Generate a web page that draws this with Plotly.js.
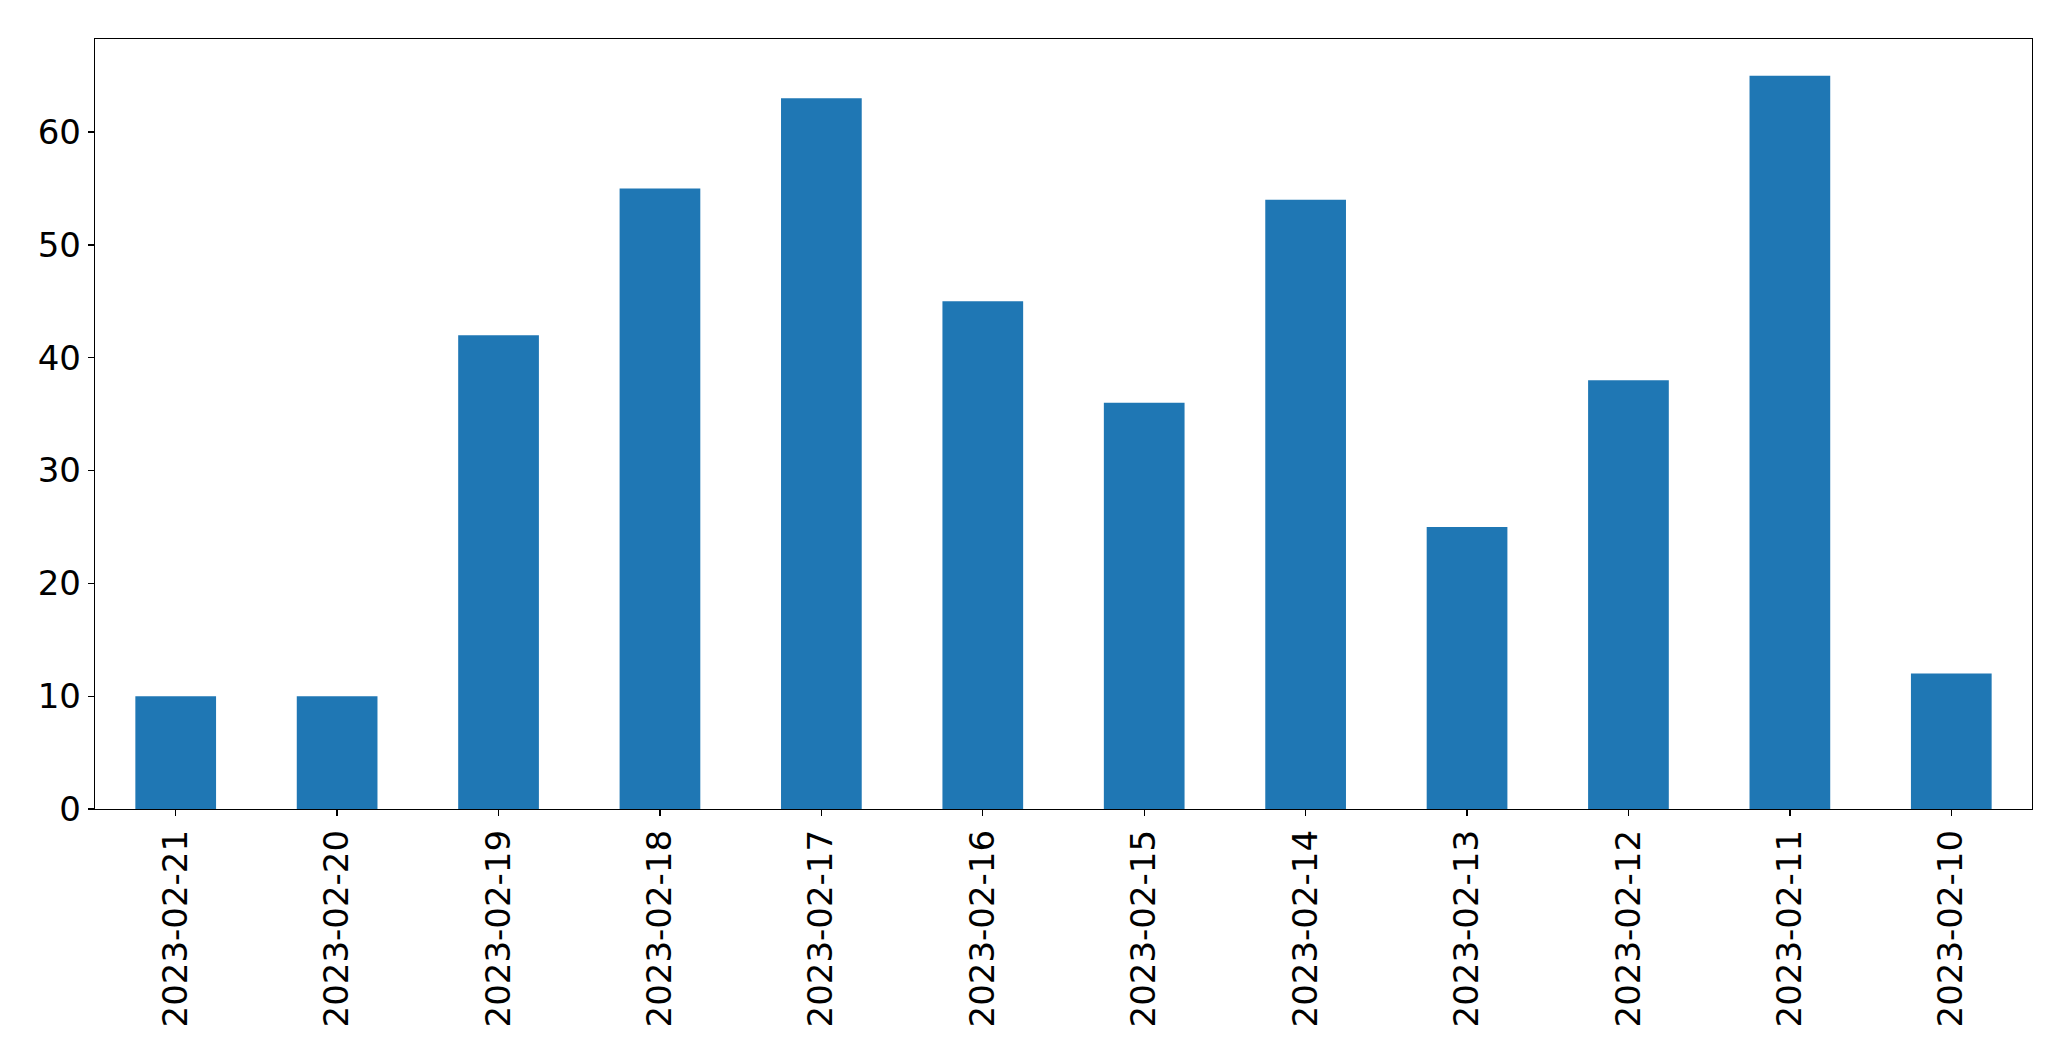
<!DOCTYPE html>
<html>
<head>
<meta charset="utf-8">
<script src="https://cdn.plot.ly/plotly-3.0.1.min.js"></script>
<style>html,body{margin:0;padding:0;background:#fff;}</style>
</head>
<body>
<div id="chart" style="width:2071px;height:1061px;"></div>
<script>
const categories = ["2023-02-21","2023-02-20","2023-02-19","2023-02-18","2023-02-17","2023-02-16","2023-02-15","2023-02-14","2023-02-13","2023-02-12","2023-02-11","2023-02-10"];
const values = [10, 10, 42, 55, 63, 45, 36, 54, 25, 38, 65, 12];
const yTicks = [0, 10, 20, 30, 40, 50, 60];

const trace = {
  type: 'bar',
  x: categories,
  y: values,
  width: 0.5,
  marker: {color: '#1f77b4', line: {width: 0}},
  hoverinfo: 'x+y'
};

const layout = {
  width: 2071,
  height: 1061,
  margin: {l: 95, r: 39, t: 39, b: 252, pad: 0},
  paper_bgcolor: '#ffffff',
  plot_bgcolor: '#ffffff',
  font: {family: 'DejaVu Sans', size: 34, color: '#000000'},
  showlegend: false,
  bargap: 0.5,
  xaxis: {
    type: 'category',
    range: [-0.5, 11.5],
    showgrid: false,
    zeroline: false,
    showline: true,
    mirror: true,
    linecolor: '#000000',
    linewidth: 1.3,
    ticks: 'outside',
    ticklen: 6,
    tickwidth: 1.3,
    tickcolor: '#000000',
    tickangle: -90,
    tickfont: {family: 'DejaVu Sans', size: 34, color: '#000000'}
  },
  yaxis: {
    range: [0, 68.25],
    tickvals: yTicks,
    ticktext: yTicks.map(String),
    showgrid: false,
    zeroline: false,
    showline: true,
    mirror: true,
    linecolor: '#000000',
    linewidth: 1.3,
    ticks: 'outside',
    ticklen: 6,
    tickwidth: 1.3,
    tickcolor: '#000000',
    tickfont: {family: 'DejaVu Sans', size: 34, color: '#000000'}
  }
};

Plotly.newPlot('chart', [trace], layout, {displayModeBar: false, staticPlot: true});
</script>
</body>
</html>
